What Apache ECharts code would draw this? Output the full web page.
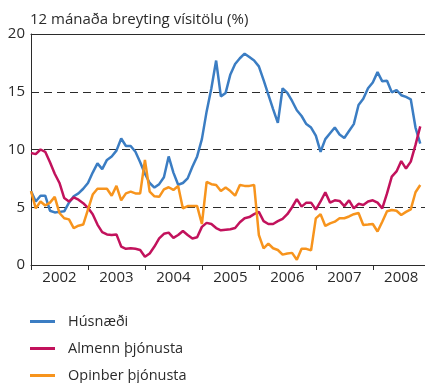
<!DOCTYPE html>
<html>
<head>
<meta charset="utf-8">
<script src="https://cdn.jsdelivr.net/npm/echarts@6/dist/echarts.min.js"></script>
<style>
  html, body { margin: 0; padding: 0; background: #fff; }
  #chart { width: 425px; height: 383px; }
</style>
</head>
<body>
<div id="chart"></div>
<script>
// Monthly 12-month change of price index sub-components, Jan 2002 onward (%)
const years = ['2002', '2003', '2004', '2005', '2006', '2007', '2008'];
const seriesNames = ['Húsnæði', 'Almenn þjónusta', 'Opinber þjónusta'];

const husnaedi = [
  6.4, 5.5, 6.0, 6.0, 4.7, 4.55, 4.6, 4.65, 5.4, 5.95, 6.2, 6.6,
  7.1, 8.0, 8.8, 8.3, 9.1, 9.4, 9.9, 10.95, 10.3, 10.3, 9.8, 8.9,
  7.9, 7.1, 6.7, 7.0, 7.6, 9.4, 8.0, 6.95, 7.1, 7.5, 8.5, 9.4,
  10.9, 13.3, 15.3, 17.7, 14.6, 14.9, 16.5, 17.4, 17.9, 18.3, 18.0, 17.7,
  17.2, 16.0, 14.75, 13.5, 12.3, 15.3, 14.9, 14.2, 13.4, 12.9, 12.2, 11.9,
  11.2, 9.8, 10.9, 11.4, 11.9, 11.3, 11.0, 11.6, 12.2, 13.85, 14.4, 15.3,
  15.8, 16.7, 15.9, 15.95, 14.95, 15.15, 14.7, 14.55, 14.35, 11.9, 10.5
];

const almenn = [
  9.7, 9.6, 10.0, 9.8, 8.9, 7.9, 7.1, 5.8, 5.5, 5.85, 5.65, 5.35,
  4.95, 4.4, 3.5, 2.85, 2.65, 2.6, 2.65, 1.6, 1.4, 1.45, 1.4, 1.3,
  0.72, 1.0, 1.6, 2.3, 2.7, 2.8, 2.35, 2.6, 2.95, 2.6, 2.3, 2.4,
  3.3, 3.65, 3.55, 3.2, 3.0, 3.05, 3.1, 3.2, 3.7, 4.05, 4.15, 4.4,
  4.6, 3.8, 3.55, 3.55, 3.8, 4.0, 4.4, 5.0, 5.7, 5.05, 5.4, 5.4,
  4.8, 5.5, 6.3, 5.4, 5.6, 5.55, 5.1, 5.6, 4.9, 5.3, 5.2, 5.5,
  5.6, 5.4, 4.9, 6.2, 7.65, 8.1, 9.0, 8.35, 8.95, 10.4, 12.0
];

const opinber = [
  6.4, 4.9, 5.5, 5.15, 5.4, 5.9, 4.5, 4.05, 3.95, 3.2, 3.4, 3.5,
  4.8, 6.1, 6.6, 6.6, 6.6, 6.0, 6.85, 5.6, 6.2, 6.35, 6.2, 6.2,
  9.1, 6.35, 5.95, 5.9, 6.55, 6.73, 6.5, 6.84, 4.9, 5.1, 5.1, 5.1,
  3.55, 7.2, 7.0, 6.93, 6.4, 6.7, 6.4, 6.0, 6.93, 6.85, 6.85, 6.93,
  2.6, 1.44, 1.85, 1.45, 1.3, 0.9, 1.0, 1.05, 0.45, 1.4, 1.4, 1.27,
  4.04, 4.4, 3.38, 3.6, 3.75, 4.04, 4.05, 4.2, 4.4, 4.5, 3.46, 3.5,
  3.55, 2.9, 3.75, 4.65, 4.76, 4.7, 4.33, 4.6, 4.82, 6.3, 6.93
];

const colors = ['#3b7dc3', '#c2125c', '#f7941d'];
const textColor = '#2b2b2b';
const fontFamily = '"Open Sans", "Noto Sans", sans-serif';

// Year boundaries carry ticks; year names sit in the middle of each year
const yearTicks = years.map((_, i) => i * 12);
const yearLabelPos = years.map((_, i) => i * 12 + 6);

const toPairs = arr => arr.map((v, i) => [i, v]);

const chart = echarts.init(document.getElementById('chart'), null, { renderer: 'canvas' });

chart.setOption({
  animation: false,
  backgroundColor: '#fff',
  color: colors,
  title: {
    text: '12 mánaða breyting vísitölu (%)',
    left: 25,
    top: 7,
    textStyle: { fontFamily, fontSize: 15, fontWeight: 'normal', color: textColor }
  },
  grid: { left: 31, right: 0, top: 34, bottom: 118, containLabel: false },
  legend: {
    orient: 'vertical',
    left: 30,
    top: 314,
    padding: 0,
    icon: 'rect',
    itemWidth: 25,
    itemHeight: 3,
    itemGap: 12,
    data: seriesNames,
    textStyle: { fontFamily, fontSize: 14.5, lineHeight: 15, color: textColor, padding: [0, 0, 0, 8] }
  },
  xAxis: [
    {
      type: 'value',
      min: 0,
      max: 83,
      position: 'bottom',
      axisLine: { show: true, onZero: false, lineStyle: { color: textColor, width: 1 } },
      axisTick: { show: true, customValues: yearTicks, length: 5, inside: false, lineStyle: { color: textColor } },
      axisLabel: {
        show: true,
        customValues: yearLabelPos,
        formatter: v => years[Math.round((v - 6) / 12)],
        fontFamily, fontSize: 15, color: textColor, margin: 5
      },
      splitLine: { show: false }
    },
    {
      type: 'value',
      min: 0,
      max: 83,
      position: 'top',
      axisLine: { show: true, onZero: false, lineStyle: { color: textColor, width: 1 } },
      axisTick: { show: false },
      axisLabel: { show: false },
      splitLine: { show: false }
    }
  ],
  yAxis: {
    type: 'value',
    min: 0,
    max: 20,
    interval: 5,
    axisLine: { show: true, lineStyle: { color: textColor, width: 1 } },
    axisTick: { show: false },
    axisLabel: { fontFamily, fontSize: 15, color: textColor, margin: 6 },
    splitLine: { show: true, lineStyle: { color: textColor, width: 1, type: [8, 5] } }
  },
  series: [
    { name: seriesNames[0], type: 'line', data: toPairs(husnaedi) },
    { name: seriesNames[1], type: 'line', data: toPairs(almenn) },
    { name: seriesNames[2], type: 'line', data: toPairs(opinber) }
  ].map(s => Object.assign(s, {
    symbol: 'none',
    smooth: false,
    lineStyle: { width: 2.5 },
    xAxisIndex: 0
  }))
});
</script>
</body>
</html>
